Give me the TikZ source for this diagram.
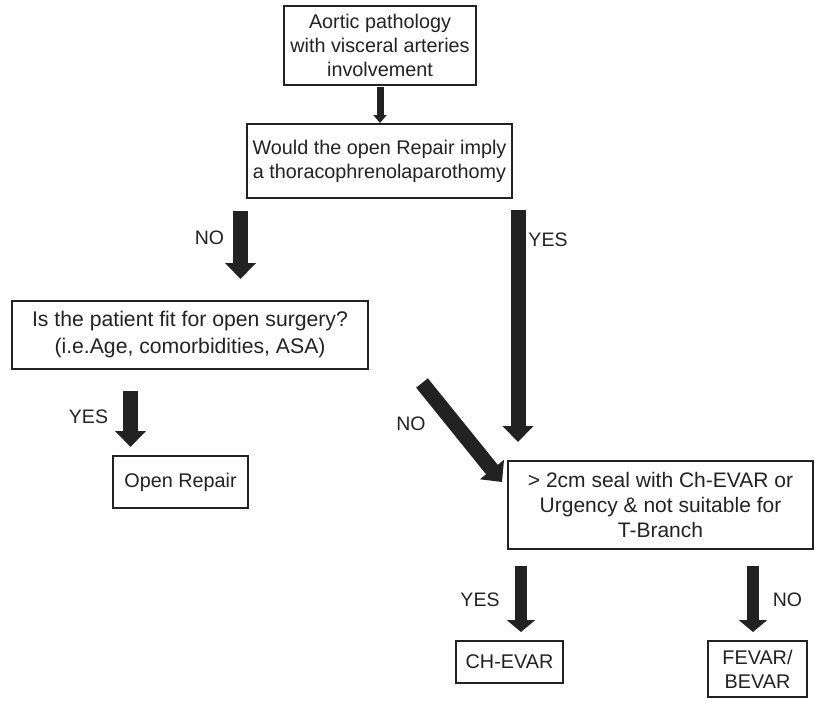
\documentclass[tikz,border=0pt]{standalone}
\usepackage{fontspec}
\setmainfont{Liberation Sans}
\usetikzlibrary{arrows.meta,calc}
\definecolor{ink}{HTML}{222222}
\begin{document}
\begin{tikzpicture}[x=1pt,y=-1pt,
  box/.style={draw=ink, line width=1.1pt, inner sep=0pt, align=center, text=ink},
  fs/.style={font=\fontsize{19.8}{24}\selectfont},
  fm/.style={font=\fontsize{21.2}{27}\selectfont},
  fl/.style={font=\fontsize{21}{25}\selectfont},
  lab/.style={inner sep=0pt, text=ink, font=\fontsize{19.5}{23}\selectfont},
  fat/.style={draw=ink, line width=15pt, -{Triangle[width=30pt,length=16pt]}},
  thin/.style={draw=ink, line width=7pt, -{Triangle[width=13pt,length=8pt]}},
  mid/.style={draw=ink, line width=11.5pt, -{Triangle[width=28pt,length=12pt]}}
]
\useasboundingbox (0,0) rectangle (815,702);
\fill[white] (0,0) rectangle (815,702);

% boxes
\node[box, fs, minimum width=192pt, minimum height=79pt] (b1) at (380,45.5)
  {Aortic pathology\\with visceral arteries\\involvement};
\node[box, fs, minimum width=265pt, minimum height=74pt] (b2) at (379.5,161)
  {Would the open Repair imply\\a thoracophrenolaparothomy};
\node[box, fm, minimum width=356pt, minimum height=68pt] (b3) at (190,335)
  {Is the patient fit for open surgery?\\(i.e.Age, comorbidities, ASA)};
\node[box, fs, minimum width=135pt, minimum height=52pt] (b4) at (180.5,482)
  {Open Repair};
\node[box, fl, minimum width=305pt, minimum height=88pt] (b5) at (660.5,505)
  {> 2cm seal with Ch-EVAR or\\Urgency \& not suitable for\\T-Branch};
\node[box, fs, minimum width=107pt, minimum height=42pt] (b6) at (509.5,662)
  {CH-EVAR};
\node[box, fs, minimum width=99pt, minimum height=56pt] (b7) at (757.5,669)
  {FEVAR/\\BEVAR};

% arrow end points
\coordinate (a1s) at (380,87);   \coordinate (a1e) at (380,123);
\coordinate (a2s) at (240.5,211); \coordinate (a2e) at (240.5,279);
\coordinate (a3s) at (518,210);  \coordinate (a3e) at (518,442);
\coordinate (a4s) at (130.5,391); \coordinate (a4e) at (130.5,447);
\coordinate (a5s) at (422,383);  \coordinate (a5e) at (502,482);
\coordinate (a6s) at (521,566);  \coordinate (a6e) at (521,632);
\coordinate (a7s) at (753,566);  \coordinate (a7e) at (753,632);

\draw[thin] (a1s) -- (a1e);
\draw[fat] (a2s) -- (a2e);
\draw[fat] (a3s) -- (a3e);
\draw[fat] (a4s) -- (a4e);
\draw[fat] (a5s) -- (a5e);
\draw[mid] (a6s) -- (a6e);
\draw[mid] (a7s) -- (a7e);

% labels
\node[lab] (l2) at (209.5,238) {NO};
\node[lab] (l3) at (548,240) {YES};
\node[lab] (l4) at (88.5,417) {YES};
\node[lab] (l5) at (411,424) {NO};
\node[lab] (l6) at (480,600) {YES};
\node[lab] (l7) at (787.5,600) {NO};
\end{tikzpicture}
\end{document}
